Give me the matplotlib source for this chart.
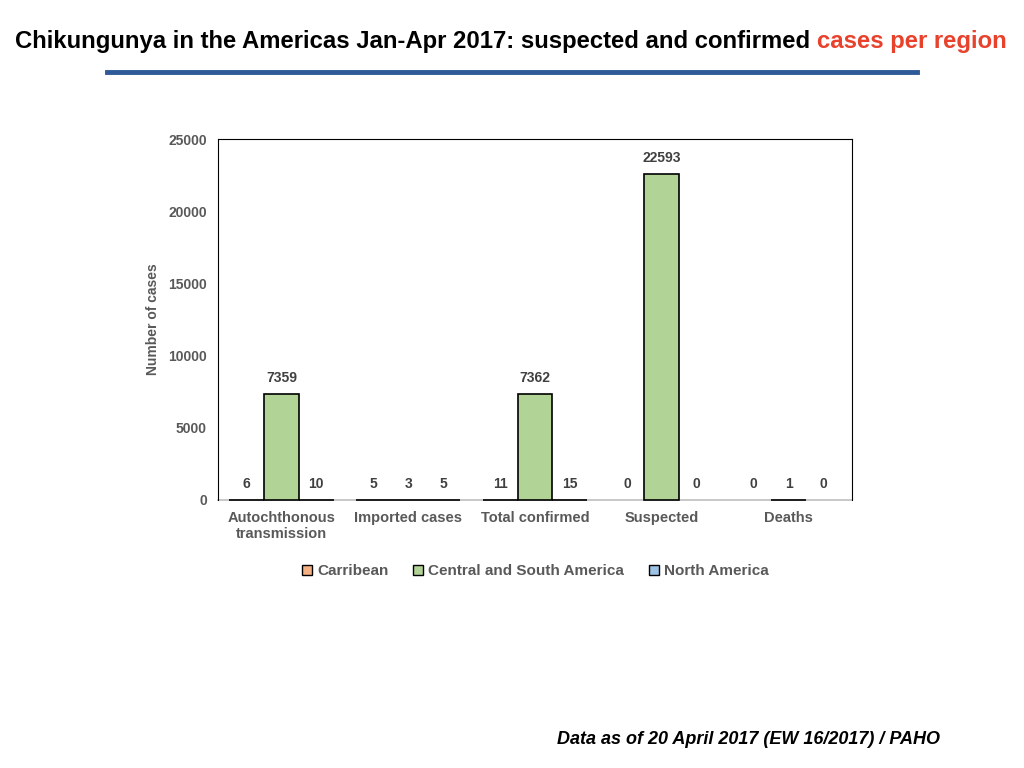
import numpy as np
import matplotlib.pyplot as plt
from matplotlib.lines import Line2D

plt.rcParams['font.family'] = ['Liberation Sans', 'DejaVu Sans']

categories = ["Autochthonous\ntransmission", "Imported cases", "Total confirmed", "Suspected", "Deaths"]
series_names = ["Carribean", "Central and South America", "North America"]
carribean = [6, 5, 11, 0, 0]
central_south = [7359, 3, 7362, 22593, 1]
north_america = [10, 5, 15, 0, 0]
colors = ["#F4B183", "#B2D396", "#9DC3E6"]

grey = "#595959"

fig = plt.figure(figsize=(10.24, 7.68), dpi=100)
ax = fig.add_axes([0.2129, 0.349, 0.6191, 0.470])

x = np.arange(len(categories))
w = 0.275
for i, (vals, c) in enumerate(zip([carribean, central_south, north_america], colors)):
    pos = x + (i - 1) * w
    lws = [0 if v == 0 else 1.2 for v in vals]  # zero bars draw nothing
    ax.bar(pos, vals, width=w, color=c, edgecolor="black", linewidth=lws,
           zorder=3, clip_on=False)
    for p, v in zip(pos, vals):
        ax.text(p, v + 600, str(v), ha="center", va="bottom", fontsize=10,
                fontweight="bold", color="#404040")

ax.set_xlim(-0.5, len(categories) - 0.5)
ax.set_ylim(0, 25000)
ax.set_yticks(np.arange(0, 25001, 5000))
ax.set_xticks(x)
ax.set_xticklabels(categories, fontsize=10.5, fontweight="bold", color=grey)
for lbl in ax.get_yticklabels():
    lbl.set_fontsize(10)
    lbl.set_fontweight("bold")
    lbl.set_color(grey)
ax.tick_params(axis="both", length=0, pad=8)
ax.set_ylabel("Number of cases", fontsize=10, fontweight="bold", color=grey, labelpad=6)
for s in ax.spines.values():
    s.set_color("black")
    s.set_linewidth(0.8)
ax.spines["bottom"].set_color("#BFBFBF")
ax.spines["bottom"].set_linewidth(1.2)
ax.spines["bottom"].set_zorder(2)

handles = [Line2D([], [], marker="s", linestyle="none", markersize=7,
                  markerfacecolor=c, markeredgecolor="black", markeredgewidth=1.0)
           for c in colors]
ax.legend(handles, series_names, loc="upper center", bbox_to_anchor=(0.5, -0.14),
          ncol=3, frameon=False, handlelength=0.7, handletextpad=0.3, columnspacing=1.6,
          prop={"size": 11, "weight": "bold"}, labelcolor=grey)

# title in two colours
t1 = fig.text(0.0146, 0.946, "Chikungunya in the Americas Jan-Apr 2017: suspected and confirmed ",
              fontsize=17.2, fontweight="bold", color="black", ha="left", va="center")
fig.canvas.draw()
bb = t1.get_window_extent()
fig.text(bb.x1 / fig.bbox.width, 0.946, "cases per region", fontsize=17.2,
         fontweight="bold", color="#E8412C", ha="left", va="center")

fig.add_artist(Line2D([107 / 1024, 917 / 1024], [1 - 72 / 768] * 2, color="#2E5A97", linewidth=3.5))

fig.text(940 / 1024, 1 - 740 / 768, "Data as of 20 April 2017 (EW 16/2017) / PAHO",
         fontsize=13, fontweight="bold", style="italic", ha="right", va="center")

fig.savefig("out.png", dpi=100)
